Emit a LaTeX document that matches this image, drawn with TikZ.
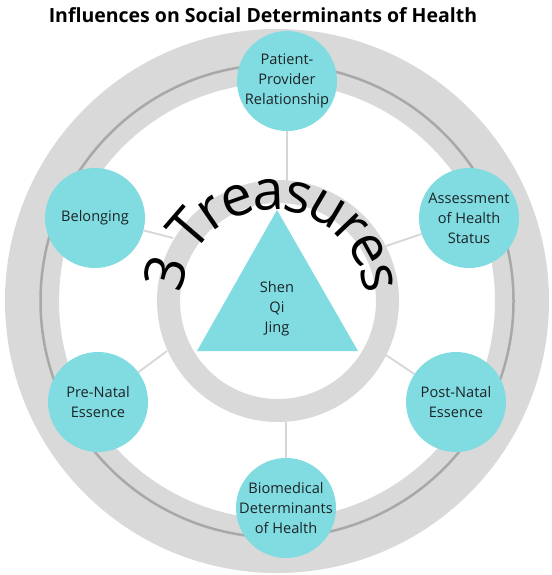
\documentclass[tikz,border=0pt]{standalone}
\usepackage{fontspec}
\setmainfont{Open Sans}
\usetikzlibrary{decorations.text}
\definecolor{cyanfill}{RGB}{128,220,224}
\definecolor{ringgray}{RGB}{217,217,217}
\definecolor{linegray}{RGB}{168,168,168}
\definecolor{spokegray}{RGB}{214,214,214}
\definecolor{labeltext}{RGB}{28,36,40}
\tikzset{
  treasure/.style={circle, fill=cyanfill, minimum size=100pt, inner sep=0pt},
  lbl/.style={align=center, text=labeltext, font=\fontsize{14.6}{20}\selectfont},
  spoke/.style={spokegray, line width=1.8pt},
}
\begin{document}
\begin{tikzpicture}[x=1pt,y=-1pt]
\useasboundingbox (0,0) rectangle (551,575);
\fill[white] (0,0) rectangle (551,575);

\node[font=\bfseries\fontsize{19.5}{22}\selectfont] (title) at (263,15) {Influences on Social Determinants of Health};

% outer ring
\coordinate (C) at (277,301);
\fill[ringgray, even odd rule] (C) circle[radius=272] (C) circle[radius=218];
\draw[linegray, line width=2.5pt] (C) circle[radius=236.5];

% circles
\node[treasure] (pp) at (287,81) {};
\node[treasure] (ah) at (469,218) {};
\node[treasure] (be) at (95,218) {};
\node[treasure] (pre) at (98,402) {};
\node[treasure] (post) at (456,402) {};
\node[treasure] (bio) at (286,508) {};

\node[lbl] at (pp) {Patient-\\Provider\\Relationship};
\node[lbl] at (ah) {Assessment\\of Health\\Status};
\node[lbl] at (be) {Belonging};
\node[lbl] at (pre) {Pre-Natal\\Essence};
\node[lbl] at (post) {Post-Natal\\Essence};
\node[lbl] at (bio) {Biomedical\\Determinants\\of Health};

% spoke ends on the inner ring
\coordinate (epp) at (287,180.5);
\coordinate (eah) at (386,246);
\coordinate (ebe) at (173,238);
\coordinate (epre) at (167,351);
\coordinate (epost) at (386,355);
\coordinate (ebio) at (286,422);
\draw[spoke] (pp) -- (epp);
\draw[spoke] (ah) -- (eah);
\draw[spoke] (be) -- (ebe);
\draw[spoke] (pre) -- (epre);
\draw[spoke] (post) -- (epost);
\draw[spoke] (bio) -- (ebio);

% inner ring
\draw[ringgray, line width=23pt] (278,301) circle[radius=109.5];

% triangle
\fill[cyanfill] (277,210) -- (358,351) -- (197,351) -- cycle;
\node[lbl] (tri) at (277,309) {Shen\\Qi\\Jing};

% curved text
\path[decorate, decoration={text along path, text align=center, raise=-12pt,
  text={|\fontsize{56}{56}\selectfont|3 Treasures}}]
  (273,302) ++(184:104) arc[start angle=184, end angle=357, radius=104];
\end{tikzpicture}
\end{document}
